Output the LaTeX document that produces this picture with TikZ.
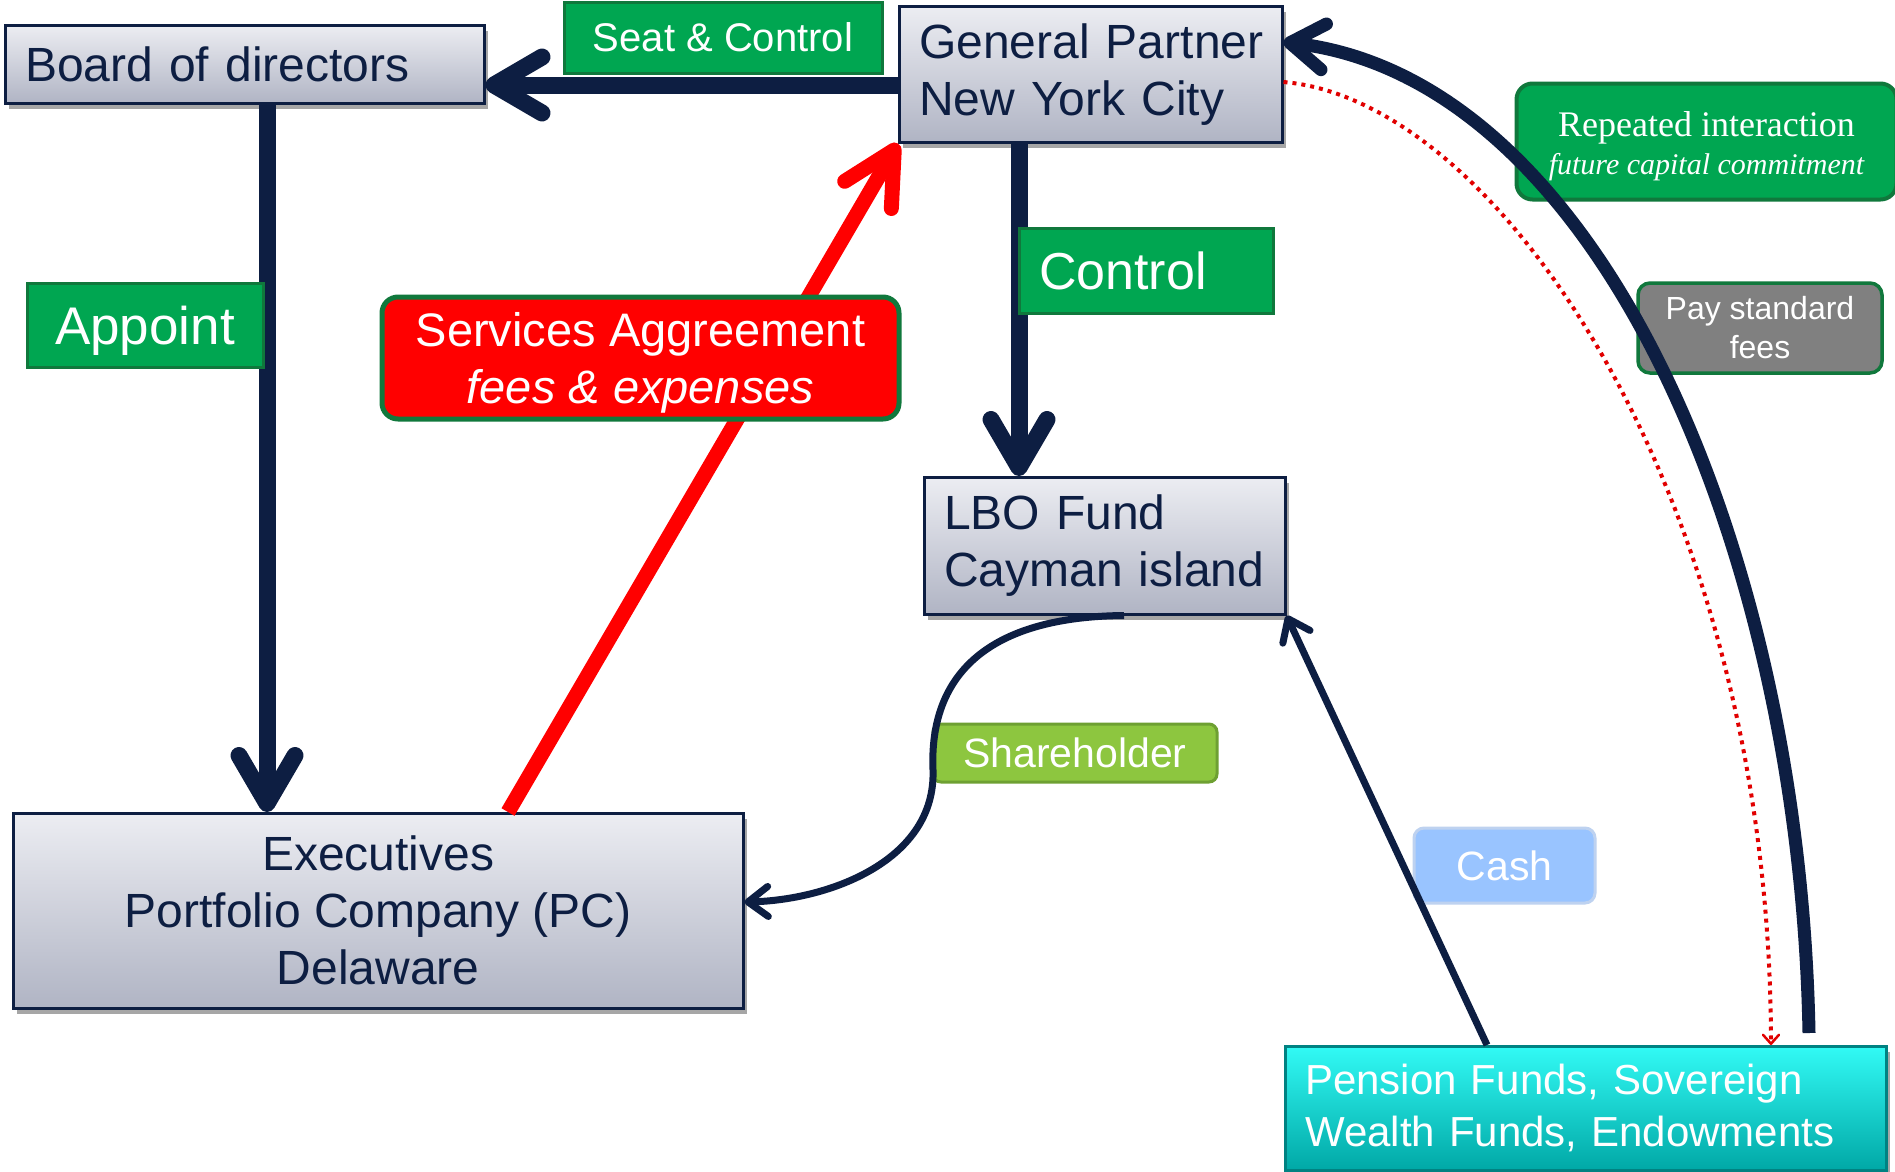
\documentclass[tikz,border=0pt]{standalone}
\usepackage{fontspec}
\setmainfont{Liberation Sans}
\newfontfamily\timesfont{Liberation Serif}
\usetikzlibrary{arrows.meta,shadows}
\definecolor{navy}{RGB}{13,30,66}
\definecolor{boxtop}{RGB}{236,237,242}
\definecolor{boxbot}{RGB}{176,180,196}
\definecolor{lblgreen}{RGB}{0,166,81}
\definecolor{greenbd}{RGB}{16,120,60}
\definecolor{lblred}{RGB}{255,0,0}
\definecolor{lblgray}{RGB}{128,128,128}
\definecolor{lime}{RGB}{141,198,63}
\definecolor{limebd}{RGB}{110,160,50}
\definecolor{cashfill}{RGB}{153,196,255}
\definecolor{cashbd}{RGB}{190,210,240}
\definecolor{cyantop}{RGB}{50,250,245}
\definecolor{cyanbot}{RGB}{0,168,166}
\definecolor{cyanbd}{RGB}{0,130,130}
\definecolor{dotred}{RGB}{225,0,0}
\begin{document}
\begin{tikzpicture}[x=1pt,y=-1pt,
  mainbox/.style={draw=navy, line width=2.5pt, top color=boxtop, bottom color=boxbot,
    text=navy, inner sep=0pt, font=\fontsize{48}{57}\selectfont,
    drop shadow={shadow xshift=4pt, shadow yshift=-6pt, fill=black, opacity=0.35}},
  greenlbl/.style={draw=greenbd, line width=3pt, fill=lblgreen, text=white, inner sep=0pt},
  thickarrow/.style={draw=navy, line width=17pt, -{Straight Barb[length=48pt,width=56pt,round]}},
  thinarrow/.style={draw=navy, line width=7pt, -{Straight Barb[length=20pt,width=30pt,round]}},
]
\fill[white] (0,0) rectangle (1895,1171);
\useasboundingbox (0,0) rectangle (1895,1171);

% main boxes
\node[mainbox, anchor=north west, minimum width=479pt, minimum height=78pt, text width=439pt, align=left] (board) at (4,24) {Board of directors};
\node[mainbox, anchor=north west, minimum width=383pt, minimum height=136pt, text width=343pt, align=left] (gp) at (898,5) {\mbox{General Partner}\\\mbox{New York City}};
\node[mainbox, anchor=north west, minimum width=361pt, minimum height=137pt, text width=321pt, align=left] (lbo) at (923,476) {\mbox{LBO Fund}\\\mbox{Cayman island}};
\node[mainbox, anchor=north west, minimum width=730pt, minimum height=195pt, align=center] (exec) at (12,812) {Executives\\Portfolio Company (PC)\\Delaware};
\node[draw=cyanbd, line width=2.5pt, top color=cyantop, bottom color=cyanbot, text=white, inner sep=0pt,
  font=\fontsize{42}{52}\selectfont, anchor=north west, minimum width=601pt, minimum height=124pt,
  text width=561pt, align=left,
  drop shadow={shadow xshift=4pt, shadow yshift=-6pt, fill=black, opacity=0.35}] (pension) at (1284,1045)
  {\mbox{Pension Funds, Sovereign}\\\mbox{Wealth Funds, Endowments}};

% straight thick connectors
\draw[thickarrow] (gp.west |- 0,85) -- (board.east |- 0,85);
\draw[thickarrow] (board.south -| 267,0) -- (exec.north -| 267,0);
\draw[thickarrow] (gp.south -| 1019,0) -- (lbo.north -| 1019,0);
\draw[draw=lblred, line width=15pt, -{Straight Barb[length=52pt,width=54pt,round]}] (exec.north -| 508,0) -- (gp.south west);

% labels
\node[greenlbl, minimum width=318pt, minimum height=71pt, font=\fontsize{40}{48}\selectfont] (seat) at (723,37.5) {Seat \& Control};
\node[greenlbl, minimum width=236pt, minimum height=84pt, text depth=0pt, font=\fontsize{53}{60}\selectfont] (appoint) at (145,325) {Appoint};
\node[greenlbl, minimum width=254pt, minimum height=85pt, text width=214pt, align=left, font=\fontsize{52}{60}\selectfont] (control) at (1146,270.5) {Control};
\node[draw=greenbd, line width=5pt, fill=lblred, text=white, inner sep=0pt, rounded corners=16pt,
  minimum width=517pt, minimum height=122pt, align=center, font=\fontsize{47}{57}\selectfont] (serv) at (640.5,358)
  {\raisebox{-5pt}[\height][\depth]{Services Aggreement}\\\raisebox{-5pt}[\height][\depth]{\itshape fees \& expenses}};
\node[draw=greenbd, line width=4pt, fill=lblgreen, text=white, inner sep=0pt, rounded corners=16pt,
  minimum width=380pt, minimum height=116pt, align=center,
  font=\timesfont\fontsize{36}{38}\selectfont] (rep) at (1706.5,141.5)
  {\raisebox{-5pt}[\height][\depth]{Repeated interaction}\\\raisebox{-5pt}[\height][\depth]{\fontsize{30}{38}\selectfont\itshape future capital commitment}};
\node[draw=greenbd, line width=3.5pt, fill=lblgray, text=white, inner sep=0pt, rounded corners=12pt,
  minimum width=244pt, minimum height=90pt, align=center, font=\fontsize{32}{39}\selectfont] (pay) at (1760,328)
  {Pay standard\\fees};
\node[draw=limebd, line width=3pt, fill=lime, text=white, inner sep=0pt, rounded corners=8pt,
  minimum width=284pt, minimum height=58pt, font=\fontsize{41}{48}\selectfont] (share) at (1075,753) {Shareholder};
\node[draw=cashbd, line width=3pt, fill=cashfill, text=white, inner sep=0pt, rounded corners=10pt,
  minimum width=181pt, minimum height=75pt, font=\fontsize{41}{48}\selectfont] (cash) at (1504.5,865.5) {Cash};

% curved and thin connectors
\draw[thinarrow] (lbo.south -| 1124,0) .. controls (960,617) and (930,700) .. (933,770)
  .. controls (936,860) and (830,900) .. (exec.east |- 0,902);
\draw[thinarrow] (pension.north -| 1487,0) -- (lbo.south east);
\draw[draw=navy, line width=13pt, -{Straight Barb[length=34pt,width=46pt,round]}]
  (1809,1033) .. controls (1800,550) and (1600,80) .. (gp.east |- 0,42);
\draw[draw=dotred, line width=4pt, dash pattern=on 4pt off 5pt,
  -{Straight Barb[length=9pt,width=16pt,round,line width=2.5pt]}]
  (gp.east |- 0,82) .. controls (1500,100) and (1770,500) .. (pension.north -| 1771,0);
\end{tikzpicture}
\end{document}
